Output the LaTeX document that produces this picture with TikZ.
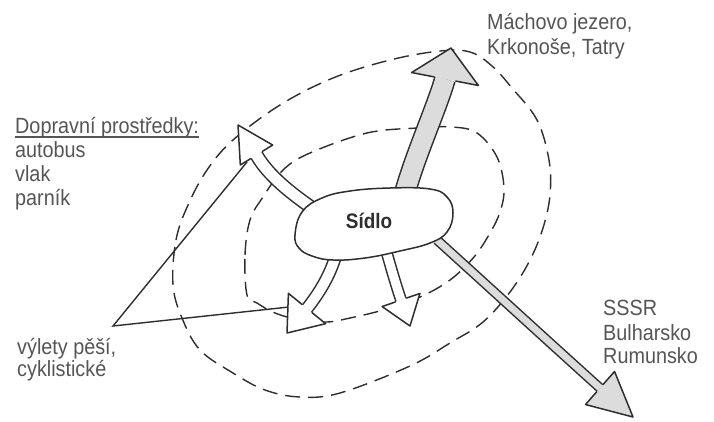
\documentclass[tikz,border=0pt]{standalone}
\usepackage{fontspec}
\setmainfont{Liberation Sans}[FakeStretch=0.9]
\usetikzlibrary{calc}
\definecolor{ink}{HTML}{2E2E2E}
\definecolor{txt}{HTML}{555555}
\definecolor{lightfill}{HTML}{DCDCDC}
\tikzset{
  ring/.style={draw=ink, line width=1.4pt, dash pattern=on 15pt off 8pt},
  lbl/.style={anchor=base west, inner sep=0pt, text=txt, font=\fontsize{22}{24}\selectfont},
  edge/.style={draw=ink, line width=1.5pt},
}
% shaft: #1 start, #2 c1, #3 c2, #4 base, #5 inner width (pt), #6 fill colour
\newcommand\myshaft[6]{%
  \draw[draw=ink, line width=#5pt+3pt] (#1) .. controls #2 and #3 .. (#4);
  \draw[draw=#6, line width=#5pt] (#1) .. controls #2 and #3 .. (#4);
}
% head: #1 base, #2 tip, #3 half head width, #4 half shaft, #5 fill colour
\newcommand\myhead[5]{%
  \fill[fill=#5] ($(#1)!#3!90:(#2)$) -- (#2) -- ($(#1)!#3!-90:(#2)$) -- cycle;
  \draw[edge, line cap=round, line join=round]
    ($(#1)!#4!90:(#2)$) -- ($(#1)!#3!90:(#2)$) -- (#2) -- ($(#1)!#3!-90:(#2)$) -- ($(#1)!#4!-90:(#2)$);
}
\begin{document}
\begin{tikzpicture}[x=1pt,y=-1pt]
\useasboundingbox (0,0) rectangle (714,421);
\fill[white] (0,0) rectangle (714,421);

% dashed zones
\draw[ring] plot[smooth cycle, tension=0.6] coordinates {
 (173,285) (176,240) (188,205) (207,170) (233,140) (280,105) (333,78) (390,60)
 (440,51) (470,52) (492,66) (512,88) (537,120) (549,160) (550,195) (543,228)
 (530,260) (510,292) (483,322) (450,343) (410,366) (340,393) (300,397) (265,390)
 (233,373) (200,350) (182,318)};
\draw[ring] plot[smooth cycle, tension=0.6] coordinates {
 (247,295) (245,255) (250,220) (263,197) (283,170) (310,153) (367,133) (417,128)
 (452,127) (477,133) (497,157) (504,188) (500,212) (490,233) (474,257) (450,280)
 (420,297) (383,310) (350,318) (327,322) (300,320) (275,313) (257,303)};

% coordinates of arrows
\coordinate (Astart) at (403,200); \coordinate (Abase) at (445,79);    \coordinate (Atip) at (451,48);
\coordinate (Bstart) at (437,240); \coordinate (Bbase) at (600,388);   \coordinate (Btip) at (633,417);
\coordinate (Cstart) at (318,212); \coordinate (Cbase) at (256.5,155); \coordinate (Ctip) at (238,125);
\coordinate (Dstart) at (336,255); \coordinate (Dbase) at (307,308.5); \coordinate (Dtip) at (287,333);
\coordinate (Estart) at (386,250); \coordinate (Ebase) at (401,300);   \coordinate (Etip) at (410,326);

% triangle of trips
\coordinate (tA) at (247,162);
\coordinate (tB) at (113,326);
\coordinate (tC) at (289,307);
\draw[edge, line width=1.4pt, line join=miter] (tA) -- (tB) -- (tC);

% shafts
\myshaft{Astart}{(413,160)}{(436,110)}{Abase}{19}{lightfill}
\myshaft{Bstart}{(490,288)}{(550,343)}{Bbase}{7}{lightfill}
\myshaft{Cstart}{(290,193)}{(268,175)}{Cbase}{11}{white}
\myshaft{Dstart}{(330,275)}{(320,292)}{Dbase}{10}{white}
\myshaft{Estart}{(391,268)}{(396,285)}{Ebase}{9}{white}

% settlement
\draw[edge, fill=white] plot[smooth cycle, tension=0.7] coordinates {
 (295,235) (302,212) (322,198) (350,191) (390,188) (430,189) (447,197) (453,213)
 (447,232) (430,243) (400,251) (365,258) (333,260) (312,256) (299,248)};
\node[inner sep=0pt, text=ink, font=\fontsize{21}{24}\selectfont\bfseries] (s) at (369,221) {Sídlo};

% heads
\myhead{Abase}{Atip}{34pt}{11pt}{lightfill}
\myhead{Bbase}{Btip}{22pt}{5pt}{lightfill}
\myhead{Cbase}{Ctip}{19pt}{7pt}{white}
\myhead{Dbase}{Dtip}{24pt}{6.5pt}{white}
\myhead{Ebase}{Etip}{20pt}{6pt}{white}

% labels
\node[lbl] (m1) at (487,29.5) {Máchovo jezero,};
\node[lbl] (m2) at (487,54.5) {Krkonoše, Tatry};
\node[lbl] (dp) at (15,133) {Dopravní prostředky:};
\draw[txt, line width=1.1pt] ($(dp.base west)+(0,4)$) -- ($(dp.base east)+(0,4)$);
\node[lbl] (au) at (15,157) {autobus};
\node[lbl] (vl) at (15,181) {vlak};
\node[lbl] (pa) at (15,205) {parník};
\node[lbl] (vy) at (17,354) {výlety pěší,};
\node[lbl] (cy) at (17,376) {cyklistické};
\node[lbl] (ss) at (603,315) {SSSR};
\node[lbl] (bu) at (603,340) {Bulharsko};
\node[lbl] (ru) at (603,363) {Rumunsko};
\end{tikzpicture}
\end{document}
